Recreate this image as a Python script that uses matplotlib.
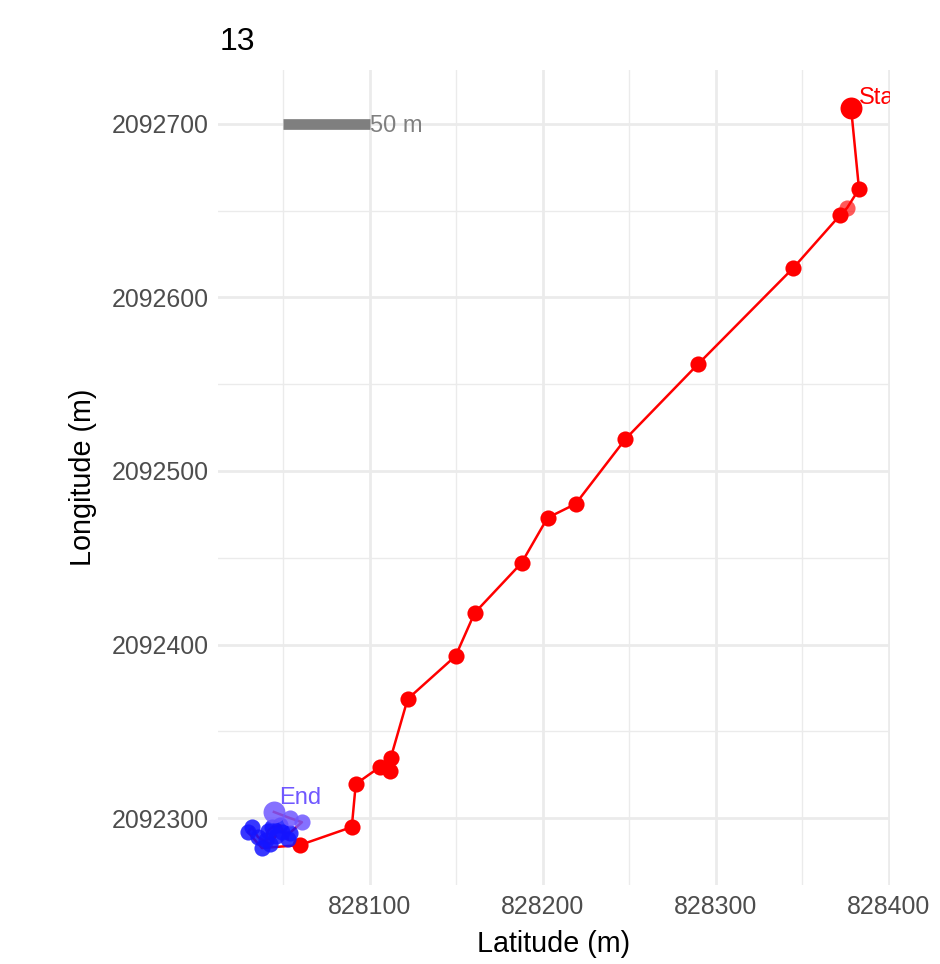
import numpy as np
import matplotlib
matplotlib.use("Agg")
import matplotlib.pyplot as plt
from matplotlib.ticker import MultipleLocator

plt.rcParams["font.family"] = ["Liberation Sans", "DejaVu Sans"]

# track, in order from start to end (metres)
lat = [828378.1, 828382.7, 828375.8, 828371.8, 828344.7, 828289.8, 828247.7,
       828218.9, 828202.7, 828187.7, 828160.6, 828149.6, 828121.9, 828112.1,
       828111.5, 828105.8, 828091.9, 828089.6, 828059.6,
       828037.7, 828029.6, 828031.9, 828035.4, 828042.3, 828045.8, 828040.0,
       828041.1, 828043.5, 828048.1, 828052.7, 828049.2, 828053.8,
       828060.8, 828053.8, 828044.6]
lon = [2092709.2, 2092662.5, 2092651.6, 2092647.5, 2092617.0, 2092561.7, 2092518.4,
       2092481.0, 2092473.0, 2092447.0, 2092418.2, 2092393.4, 2092368.6, 2092334.6,
       2092327.1, 2092329.4, 2092319.6, 2092294.8, 2092284.4,
       2092282.7, 2092291.9, 2092294.6, 2092289.0, 2092285.0, 2092289.6, 2092287.3,
       2092292.5, 2092294.6, 2092295.8, 2092287.8, 2092291.9, 2092291.4,
       2092297.6, 2092300.0, 2092303.5]
state = ["move"] * 19 + ["stop"] * 13 + ["end"] * 3
faded = [False, False, True] + [False] * 32

colors = {"move": "#FF0000", "stop": "#1414FF", "end": "#7058FF"}

fig = plt.figure(figsize=(9.4, 9.64), dpi=100)
ax = fig.add_axes([218 / 940, (964 - 885) / 964, 672 / 940, 815 / 964])

ax.plot(lat, lon, "-", color="#FF0000", lw=1.8, zorder=2)
for i in range(len(lat)):
    a = 0.65 if faded[i] else (0.85 if state[i] != "move" else 1.0)
    s = 135
    if i == 0 or i == len(lat) - 1:
        s = 250
    ax.scatter(lat[i], lon[i], s=s, color=colors[state[i]], alpha=a,
               lw=0, zorder=3)

ax.text(lat[0] + 4.5, lon[0] + 6, "Start", color="#FF0000", fontsize=17,
        ha="left", va="center", clip_on=True, zorder=4)
ax.text(lat[-1] + 3, lon[-1] + 8, "End", color="#7058FF", fontsize=17,
        ha="left", va="center", clip_on=True, zorder=4)

# scale bar
ax.plot([828050, 828100], [2092700, 2092700], color="#7F7F7F", lw=7.7,
        solid_capstyle="butt", zorder=3)
ax.text(828100, 2092699, "50 m", color="#7F7F7F", fontsize=17,
        ha="left", va="center", zorder=4)

ax.set_xlim(828012.3, 828400.6)
ax.set_ylim(2092261.4, 2092731.1)
ax.xaxis.set_major_locator(MultipleLocator(100))
ax.xaxis.set_minor_locator(MultipleLocator(50))
ax.yaxis.set_major_locator(MultipleLocator(100))
ax.yaxis.set_minor_locator(MultipleLocator(50))
ax.ticklabel_format(useOffset=False, style="plain")

ax.grid(True, which="major", color="#EBEBEB", lw=2.0, zorder=0)
ax.grid(True, which="minor", color="#EBEBEB", lw=1.0, zorder=0)
ax.set_axisbelow(True)
for sp in ax.spines.values():
    sp.set_visible(False)
ax.tick_params(which="both", length=0, labelsize=17.9, labelcolor="#4D4D4D", pad=7)

ax.set_xlabel("Latitude (m)", fontsize=20.7, labelpad=8)
ax.set_ylabel("Longitude (m)", fontsize=20.7, labelpad=10)
fig.text(220 / 940, 1 - 42 / 964, "13", fontsize=23, ha="left", va="center")

fig.savefig("out.png", dpi=100)
